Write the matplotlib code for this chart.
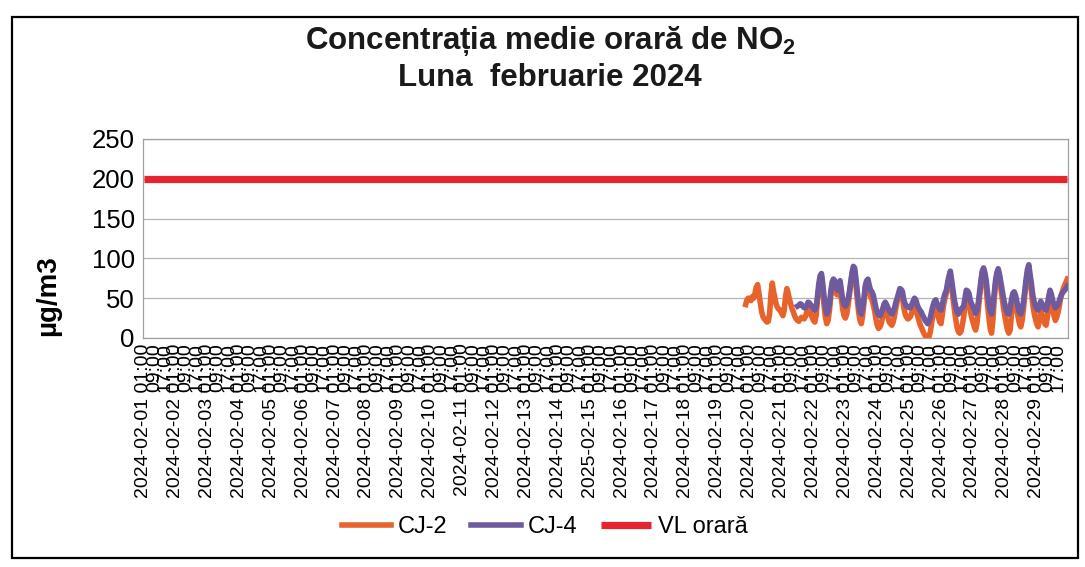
import matplotlib
matplotlib.use("Agg")
import matplotlib.pyplot as plt
from matplotlib.patches import Rectangle
import pandas as pd

plt.rcParams['font.family'] = ['Liberation Sans', 'DejaVu Sans']
plt.rcParams['mathtext.default'] = 'regular'

# ---- data -------------------------------------------------------------
n_hours = 696                       # hourly categories, 2024-02-01 01:00 .. 2024-03-01 00:00
start_time = "2024-02-01 01:00"
vl_orara = 200                      # hourly limit value

cj2_start = 453                     # first hour index with CJ-2 data
cj2_values = [
    42, 48, 50, 49, 47, 52, 50, 56, 64, 67, 55, 44, 33, 27, 24, 22, 20, 21, 30, 55,
    69, 58, 50, 42, 38, 36, 35, 31, 28, 35, 52, 62, 56, 48, 42, 36, 32, 27, 24, 22,
    21, 24, 26, 25, 24, 27, 33, 38, 36, 30, 26, 22, 20, 28, 48, 62, 74, 78, 60, 40,
    26, 18, 22, 34, 52, 66, 70, 66, 56, 54, 64, 68, 50, 36, 28, 25, 30, 40, 54, 66,
    80, 86, 82, 66, 48, 32, 22, 18, 28, 44, 62, 70, 68, 58, 52, 48, 42, 34, 24, 16,
    12, 14, 18, 26, 34, 38, 32, 26, 20, 18, 16, 20, 28, 38, 46, 52, 58, 56, 50, 38,
    30, 26, 24, 25, 27, 32, 38, 44, 40, 30, 24, 18, 14, 10, 6, 3, 1, 0, 2, 8,
    20, 30, 38, 40, 32, 26, 20, 18, 30, 42, 50, 56, 66, 76, 80, 66, 50, 36, 24, 14,
    8, 6, 8, 16, 26, 42, 54, 52, 46, 34, 26, 20, 14, 10, 18, 34, 52, 68, 82, 86,
    76, 62, 42, 26, 12, 6, 22, 48, 68, 80, 84, 74, 62, 50, 38, 28, 18, 10, 6, 10,
    30, 46, 52, 46, 36, 26, 18, 14, 22, 36, 54, 70, 82, 86, 72, 58, 42, 32, 24, 18,
    14, 22, 34, 30, 24, 18, 16, 26, 40, 52, 46, 36, 28, 22, 26, 32, 40, 50, 56, 62,
    66, 70, 74,
]

cj4_start = 492                     # first hour index with CJ-4 data
cj4_values = [
    40, 41, 43, 42, 40, 38, 38, 41, 45, 44, 41, 40, 37, 35, 38, 52, 68, 78, 81, 68,
    52, 38, 30, 34, 42, 58, 70, 74, 72, 64, 60, 68, 72, 60, 48, 42, 40, 44, 48, 58,
    70, 82, 90, 88, 74, 58, 42, 33, 30, 38, 50, 66, 72, 74, 66, 60, 58, 54, 46, 38,
    32, 29, 28, 31, 36, 42, 45, 42, 38, 34, 32, 30, 33, 38, 45, 50, 56, 62, 61, 58,
    48, 43, 40, 39, 38, 38, 42, 46, 50, 48, 42, 38, 35, 33, 29, 26, 22, 20, 18, 21,
    26, 34, 41, 46, 48, 43, 40, 36, 35, 42, 50, 56, 60, 70, 78, 84, 72, 60, 48, 40,
    33, 30, 33, 36, 38, 40, 50, 60, 59, 56, 47, 43, 39, 36, 31, 35, 44, 58, 72, 84,
    88, 82, 72, 56, 44, 34, 30, 40, 56, 72, 82, 87, 80, 70, 60, 50, 42, 35, 31, 30,
    38, 48, 56, 58, 54, 46, 38, 32, 30, 36, 45, 60, 74, 86, 92, 80, 68, 54, 46, 40,
    37, 35, 40, 46, 43, 40, 37, 35, 42, 52, 60, 55, 47, 42, 38, 40, 42, 47, 52, 56,
    58, 60, 62, 65,
]

label_step = 8                      # a category label every 8 hours
label_times = ["01:00", "09:00", "17:00"]
label_year_override = {15: "2025"}  # as printed on the original axis

y_ticks = [0, 50, 100, 150, 200, 250]
series_names = ["CJ-2", "CJ-4", "VL orară"]
colors = {"CJ-2": "#E8632B", "CJ-4": "#6F5A9E", "VL orară": "#E5242F"}

# ---- build categories --------------------------------------------------
times = pd.date_range(start_time, periods=n_hours, freq="h")
x_all = list(range(n_hours))
x_cj2 = x_all[cj2_start:cj2_start + len(cj2_values)]
x_cj4 = x_all[cj4_start:cj4_start + len(cj4_values)]

tick_pos = x_all[::label_step]
tick_labels = []
for p in tick_pos:
    t = times[p]
    hhmm = t.strftime("%H:%M")
    if hhmm == label_times[0]:
        year = label_year_override.get(t.day, t.strftime("%Y"))
        tick_labels.append(f"{year}-{t.strftime('%m-%d')} {hhmm}")
    else:
        tick_labels.append(hhmm)

# ---- figure ------------------------------------------------------------
fig = plt.figure(figsize=(10.85, 5.67), dpi=100)
fig.patch.set_facecolor("white")
ax = fig.add_axes([0.1318, 0.4039, 0.9843 - 0.1318, 0.7549 - 0.4039])

ax.plot(x_all, [vl_orara] * n_hours, color=colors["VL orară"], lw=5.2,
        solid_capstyle="butt", label="VL orară", zorder=2)
ax.plot(x_cj2, cj2_values, color=colors["CJ-2"], lw=4.0, label="CJ-2", zorder=3)
ax.plot(x_cj4, cj4_values, color=colors["CJ-4"], lw=4.0, label="CJ-4", zorder=4)

ax.set_xlim(-0.5, n_hours - 0.5)
ax.set_ylim(0, 250)
ax.set_yticks(y_ticks)
ax.set_yticklabels([str(v) for v in y_ticks], fontsize=18.5)
ax.yaxis.grid(True, color="#b4b4b4", lw=0.9)
ax.set_axisbelow(True)
ax.tick_params(axis="y", length=0, pad=6)

ax.set_xticks(tick_pos)
ax.set_xticklabels(tick_labels, rotation=90, fontsize=14, va="top", ha="center")
ax.tick_params(axis="x", length=0, pad=4)

for s in ax.spines.values():
    s.set_color("#a0a0a0")
    s.set_linewidth(0.9)

fig.text(48 / 1085, 1 - 296 / 567, "µg/m3", rotation=90, ha="center", va="center",
         fontsize=20, fontweight="bold")

fig.text(0.507, 0.928, "Concentrația medie orară de NO$_2$", ha="center", va="center",
         fontsize=22.5, fontweight="bold", color="#1a1a1a")
fig.text(0.507, 0.862, "Luna  februarie 2024", ha="center", va="center",
         fontsize=22.5, fontweight="bold", color="#1a1a1a")

handles, labels = ax.get_legend_handles_labels()
order = [labels.index(n) for n in series_names]
leg = fig.legend([handles[i] for i in order], [labels[i] for i in order],
                 loc="center", bbox_to_anchor=(0.502, 0.07), ncol=3, frameon=False,
                 fontsize=17, handlelength=2.1, columnspacing=1.0, handletextpad=0.3)

fig.patches.append(Rectangle((0.011, 0.015), 0.983, 0.955, transform=fig.transFigure,
                             fill=False, edgecolor="black", lw=1.6))

fig.savefig("out.png", dpi=100, facecolor="white")
